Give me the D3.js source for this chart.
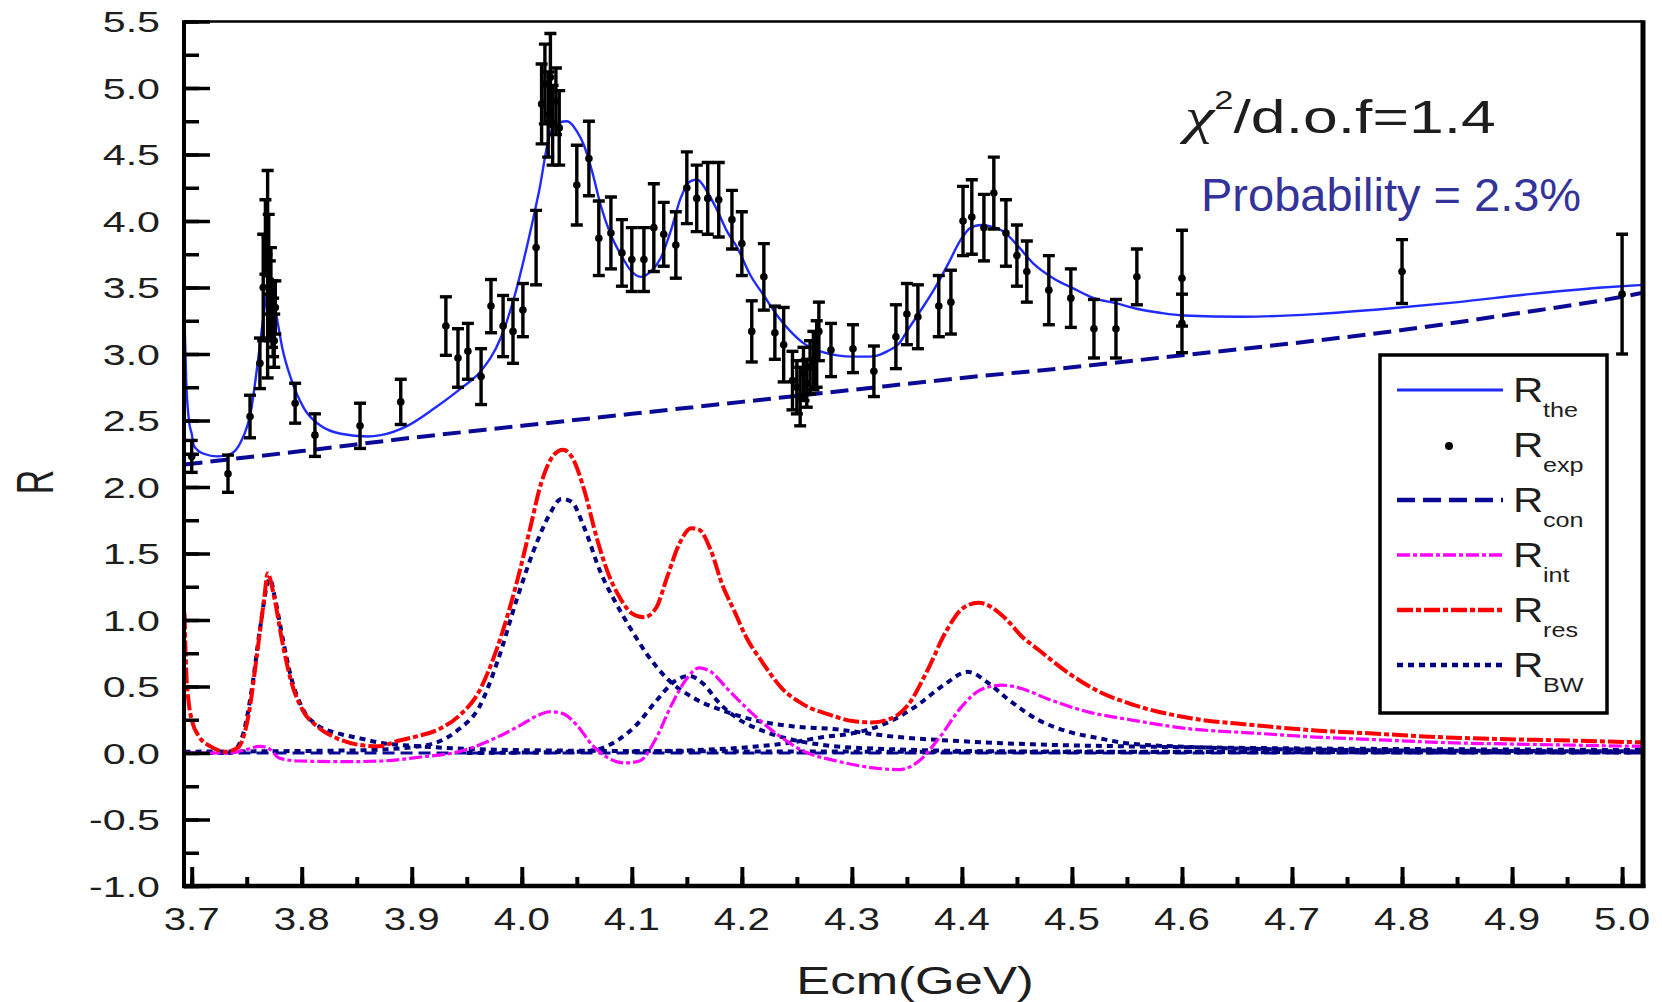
<!DOCTYPE html>
<html>
<head>
<meta charset="utf-8">
<script src="https://cdn.jsdelivr.net/npm/d3@7"></script>
<style>
  body { margin: 0; background: #fff; }
  text { font-family: "Liberation Sans", Arial, Helvetica, sans-serif; fill: #1e1e1e; }
</style>
</head>
<body>
<svg id="chart" width="1662" height="1002"></svg>
<script>
// ---- Experimental R values: [Ecm (GeV), R, error] ----
const rExp = [
  [3.700, 2.23, 0.12], [3.733, 2.10, 0.14], [3.753, 2.53, 0.16], [3.762, 2.93, 0.19],
  [3.765, 3.50, 0.40], [3.767, 3.88, 0.28], [3.769, 3.60, 0.78], [3.770, 3.75, 0.30],
  [3.771, 3.40, 0.30], [3.772, 3.55, 0.25], [3.773, 3.30, 0.25], [3.774, 3.20, 0.22],
  [3.775, 3.10, 0.20], [3.776, 3.35, 0.20], [3.794, 2.63, 0.15], [3.812, 2.39, 0.16],
  [3.853, 2.46, 0.17], [3.890, 2.64, 0.17], [3.931, 3.21, 0.22], [3.942, 2.97, 0.22],
  [3.951, 3.02, 0.21], [3.963, 2.83, 0.21], [3.972, 3.36, 0.20], [3.983, 3.21, 0.23],
  [3.992, 3.17, 0.24], [4.001, 3.33, 0.20], [4.013, 3.80, 0.28], [4.018, 4.88, 0.30],
  [4.021, 5.03, 0.30], [4.024, 4.80, 0.32], [4.026, 5.08, 0.33], [4.028, 4.72, 0.30],
  [4.031, 4.90, 0.25], [4.034, 4.70, 0.28], [4.050, 4.27, 0.30], [4.061, 4.47, 0.28],
  [4.070, 3.87, 0.28], [4.081, 3.91, 0.27], [4.091, 3.76, 0.25], [4.100, 3.71, 0.24],
  [4.111, 3.71, 0.24], [4.120, 3.95, 0.33], [4.129, 3.90, 0.24], [4.140, 3.82, 0.25],
  [4.150, 4.25, 0.27], [4.159, 4.17, 0.25], [4.169, 4.17, 0.27], [4.179, 4.16, 0.28],
  [4.191, 4.01, 0.22], [4.200, 3.83, 0.24], [4.209, 3.17, 0.23], [4.220, 3.58, 0.25],
  [4.230, 3.16, 0.20], [4.238, 3.07, 0.28], [4.246, 2.80, 0.22], [4.250, 2.75, 0.20],
  [4.253, 2.68, 0.22], [4.256, 2.85, 0.20], [4.259, 2.78, 0.18], [4.262, 2.90, 0.20],
  [4.265, 2.95, 0.22], [4.268, 3.00, 0.25], [4.270, 3.17, 0.22], [4.281, 3.03, 0.20],
  [4.301, 3.04, 0.18], [4.320, 2.87, 0.19], [4.340, 3.13, 0.24], [4.350, 3.30, 0.23],
  [4.360, 3.28, 0.24], [4.379, 3.36, 0.23], [4.390, 3.39, 0.24], [4.401, 4.00, 0.26],
  [4.409, 4.03, 0.28], [4.420, 3.95, 0.25], [4.429, 4.21, 0.27], [4.440, 3.91, 0.25],
  [4.450, 3.74, 0.23], [4.459, 3.62, 0.23], [4.479, 3.48, 0.26], [4.499, 3.42, 0.22],
  [4.520, 3.19, 0.22], [4.540, 3.19, 0.22], [4.559, 3.58, 0.21], [4.600, 3.57, 0.36],
  [4.600, 3.23, 0.22], [4.800, 3.62, 0.24], [5.000, 3.45, 0.45]
];

// ---- Theoretical total R: [Ecm, R] ----
const rThe = [
  [3.6935, 3.24], [3.695, 2.80], [3.6975, 2.50], [3.700, 2.40], [3.702, 2.31], [3.711, 2.25],
  [3.7235, 2.23], [3.7356, 2.25], [3.7447, 2.34], [3.7538, 2.57], [3.7613, 3.02], [3.767, 3.39],
  [3.7719, 3.57], [3.7765, 3.32], [3.7825, 3.04], [3.790, 2.82], [3.8022, 2.59], [3.8173, 2.46],
  [3.8355, 2.40], [3.8597, 2.38], [3.8718, 2.39], [3.896, 2.46], [3.9202, 2.59], [3.9444, 2.74],
  [3.9626, 2.87], [3.9808, 3.12], [3.9929, 3.42], [4.005, 3.82], [4.0156, 4.22], [4.0262, 4.67],
  [4.0338, 4.74], [4.0413, 4.75], [4.0504, 4.67], [4.0565, 4.57], [4.064, 4.37], [4.0716, 4.12],
  [4.0807, 3.90], [4.0898, 3.75], [4.0989, 3.63], [4.108, 3.58], [4.117, 3.62], [4.1262, 3.72],
  [4.1352, 3.92], [4.1443, 4.17], [4.1534, 4.30], [4.1595, 4.31], [4.1685, 4.22], [4.1776, 4.08],
  [4.1867, 3.92], [4.1958, 3.80], [4.2079, 3.59], [4.220, 3.44], [4.2321, 3.29], [4.2442, 3.17],
  [4.2563, 3.08], [4.2714, 3.02], [4.2865, 2.99], [4.3017, 2.98], [4.3168, 2.98], [4.332, 3.02],
  [4.344, 3.09], [4.350, 3.17], [4.362, 3.32], [4.375, 3.49], [4.387, 3.67], [4.399, 3.86],
  [4.408, 3.95], [4.417, 3.97], [4.426, 3.96], [4.438, 3.92], [4.450, 3.82], [4.465, 3.68],
  [4.483, 3.57], [4.502, 3.49], [4.520, 3.42], [4.541, 3.38], [4.559, 3.34], [4.580, 3.31],
  [4.601, 3.29], [4.656, 3.28], [4.721, 3.30], [4.786, 3.34], [4.851, 3.39], [4.916, 3.45],
  [4.982, 3.50], [5.019, 3.52]
];

// ---- Continuum contribution ----
const rCon = [
  [3.6935, 2.17], [3.8, 2.27], [3.9, 2.37], [4.0, 2.46], [4.1, 2.55], [4.2, 2.64], [4.3, 2.73],
  [4.4, 2.82], [4.5, 2.90], [4.6, 2.99], [4.7, 3.08], [4.8, 3.18], [4.9, 3.30], [5.0, 3.43], [5.019, 3.46]
];

// ---- Interference term ----
const rInt = [
  [3.6935, 0.0], [3.735, 0.0], [3.749, 0.025], [3.762, 0.05], [3.769, 0.04], [3.780, -0.04],
  [3.797, -0.06], [3.839, -0.065], [3.873, -0.06], [3.908, -0.03], [3.943, 0.01], [3.978, 0.12],
  [3.999, 0.21], [4.014, 0.28], [4.025, 0.31], [4.036, 0.30], [4.050, 0.21], [4.064, 0.06],
  [4.079, -0.04], [4.093, -0.075], [4.107, -0.06], [4.122, 0.11], [4.136, 0.36], [4.150, 0.56],
  [4.161, 0.64], [4.172, 0.61], [4.186, 0.49], [4.204, 0.34], [4.229, 0.16], [4.257, 0.01],
  [4.286, -0.06], [4.318, -0.11], [4.343, -0.125], [4.361, -0.06], [4.379, 0.11], [4.401, 0.36],
  [4.418, 0.48], [4.436, 0.51], [4.452, 0.49], [4.480, 0.40], [4.514, 0.31], [4.553, 0.25],
  [4.609, 0.18], [4.665, 0.15], [4.721, 0.12], [4.777, 0.10], [4.832, 0.08], [4.916, 0.065], [5.019, 0.05]
];

// ---- Total resonance contribution ----
const rRes = [
  [3.6935, 1.05], [3.695, 0.62], [3.697, 0.40], [3.700, 0.25], [3.707, 0.12], [3.717, 0.05],
  [3.731, 0.01], [3.742, 0.04], [3.752, 0.30], [3.759, 0.72], [3.766, 1.17], [3.769, 1.35],
  [3.775, 1.17], [3.782, 0.85], [3.790, 0.55], [3.801, 0.32], [3.814, 0.20], [3.832, 0.11],
  [3.853, 0.06], [3.870, 0.05], [3.887, 0.09], [3.907, 0.13], [3.925, 0.18], [3.943, 0.28],
  [3.961, 0.46], [3.978, 0.80], [3.996, 1.30], [4.007, 1.67], [4.018, 2.04], [4.029, 2.24],
  [4.0375, 2.28], [4.046, 2.22], [4.057, 1.97], [4.068, 1.62], [4.079, 1.34], [4.089, 1.17],
  [4.100, 1.05], [4.111, 1.02], [4.122, 1.09], [4.132, 1.32], [4.143, 1.57], [4.154, 1.69],
  [4.161, 1.68], [4.172, 1.52], [4.182, 1.27], [4.193, 1.07], [4.204, 0.87], [4.218, 0.69],
  [4.236, 0.49], [4.257, 0.36], [4.279, 0.29], [4.3005, 0.24], [4.318, 0.23], [4.336, 0.26],
  [4.351, 0.36], [4.368, 0.61], [4.386, 0.92], [4.401, 1.09], [4.415, 1.13], [4.441, 1.00],
  [4.454, 0.88], [4.469, 0.78], [4.497, 0.60], [4.525, 0.46], [4.553, 0.37], [4.609, 0.26],
  [4.665, 0.21], [4.721, 0.17], [4.777, 0.145], [4.832, 0.12], [4.888, 0.105], [4.944, 0.095], [5.019, 0.08]
];

// ---- Breit-Wigner shapes of the individual resonances ----
const bw3770 = [
  [3.6935, 0.0], [3.735, 0.0], [3.745, 0.10], [3.755, 0.50], [3.762, 0.93], [3.771, 1.31],
  [3.776, 1.15], [3.783, 0.85], [3.790, 0.58], [3.801, 0.33], [3.814, 0.21], [3.832, 0.15],
  [3.853, 0.11], [3.873, 0.075], [3.908, 0.05], [3.977, 0.025], [4.1, 0.015], [4.5, 0.008], [5.019, 0.005]
];
const bw4040 = [
  [3.6935, 0.01], [3.85, 0.02], [3.907, 0.05], [3.943, 0.18], [3.961, 0.34], [3.978, 0.69],
  [3.996, 1.17], [4.014, 1.59], [4.025, 1.79], [4.036, 1.91], [4.045, 1.89], [4.057, 1.69],
  [4.071, 1.37], [4.086, 1.12], [4.100, 0.92], [4.114, 0.74], [4.132, 0.56], [4.157, 0.41],
  [4.186, 0.31], [4.215, 0.24], [4.247, 0.20], [4.283, 0.18], [4.336, 0.125], [4.408, 0.085],
  [4.465, 0.065], [4.55, 0.05], [4.7, 0.035], [4.85, 0.028], [5.019, 0.022]
];
const bw4160 = [
  [3.95, 0.0], [4.05, 0.01], [4.068, 0.025], [4.086, 0.09], [4.104, 0.21], [4.122, 0.39],
  [4.139, 0.54], [4.152, 0.58], [4.165, 0.52], [4.179, 0.38], [4.196, 0.26], [4.218, 0.17],
  [4.246, 0.10], [4.274, 0.06], [4.33, 0.03], [4.45, 0.012], [5.019, 0.005]
];
const bw4415 = [
  [4.1, 0.01], [4.2, 0.04], [4.246, 0.08], [4.274, 0.12], [4.302, 0.15], [4.330, 0.22],
  [4.358, 0.35], [4.385, 0.52], [4.405, 0.61], [4.425, 0.52], [4.441, 0.41], [4.469, 0.25],
  [4.497, 0.16], [4.525, 0.11], [4.553, 0.07], [4.609, 0.045], [4.721, 0.025], [5.019, 0.012]
];
const zeroLine = [[3.6935, 0.0], [5.019, 0.0]];

// ---- Axis ticks and legend labels ----
const xMajorTicks = [3.7, 3.8, 3.9, 4.0, 4.1, 4.2, 4.3, 4.4, 4.5, 4.6, 4.7, 4.8, 4.9, 5.0];
const yMajorTicks = [-1.0, -0.5, 0.0, 0.5, 1.0, 1.5, 2.0, 2.5, 3.0, 3.5, 4.0, 4.5, 5.0, 5.5];
const legendSubs = ["the", "exp", "con", "int", "res", "BW"];
const fitText = "/d.o.f=1.4";
const probText = "Probability = 2.3%";

// ---- Layout ----
const plotL = 184, plotR = 1643, plotT = 21.5, plotB = 886;
const x = d3.scaleLinear().domain([3.693, 5.019]).range([plotL, plotR]);
const y = d3.scaleLinear().domain([-1, 5.5]).range([plotB, plotT]);
const fmt = d3.formatLocale({ decimal: ".", thousands: ",", grouping: [3], currency: ["", ""], minus: "-" }).format(".1f");

const svg = d3.select("#chart");
svg.append("rect").attr("width", 1662).attr("height", 1002).attr("fill", "#fff");

svg.append("defs").append("clipPath").attr("id", "plotClip")
  .append("rect").attr("x", plotL).attr("y", plotT).attr("width", plotR - plotL).attr("height", plotB - plotT);

const plot = svg.append("g").attr("clip-path", "url(#plotClip)");

const line = d3.line().x(d => x(d[0])).y(d => y(d[1])).curve(d3.curveMonotoneX);

const styles = {
  the: { stroke: "#1f2bff", width: 2.4, dash: null },
  con: { stroke: "#0a0a96", width: 4, dash: "18,8" },
  int: { stroke: "#ff00ff", width: 3.2, dash: "13,3,4,3" },
  res: { stroke: "#ff0000", width: 4, dash: "16,3,5,3" },
  bw:  { stroke: "#000080", width: 4, dash: "6,5" },
  zero:{ stroke: "#0a0a96", width: 3, dash: "12,6" }
};

function drawCurve(data, st) {
  const p = plot.append("path").datum(data)
    .attr("d", line).attr("fill", "none")
    .attr("stroke", st.stroke).attr("stroke-width", st.width)
    .attr("stroke-linejoin", "round");
  if (st.dash) p.attr("stroke-dasharray", st.dash);
}

drawCurve(zeroLine, styles.zero);
[bw3770, bw4040, bw4160, bw4415].forEach(b => drawCurve(b, styles.bw));
drawCurve(rInt, styles.int);
drawCurve(rRes, styles.res);
drawCurve(rCon, styles.con);
drawCurve(rThe, styles.the);

// ---- Error bars ----
const capHalf = 6;
const eb = plot.append("g").attr("stroke", "#000").attr("stroke-width", 3.4);
rExp.forEach(d => {
  const cx = x(d[0]), y1 = y(d[1] + d[2]), y2 = y(d[1] - d[2]);
  eb.append("line").attr("x1", cx).attr("x2", cx).attr("y1", y1).attr("y2", y2);
  eb.append("line").attr("x1", cx - capHalf).attr("x2", cx + capHalf).attr("y1", y1).attr("y2", y1);
  eb.append("line").attr("x1", cx - capHalf).attr("x2", cx + capHalf).attr("y1", y2).attr("y2", y2);
});
plot.append("g").selectAll("circle").data(rExp).join("circle")
  .attr("cx", d => x(d[0])).attr("cy", d => y(d[1])).attr("r", 3.8).attr("fill", "#000");

// ---- Axes (ticks only; labels drawn separately with horizontal stretch) ----
const xMinor = d3.range(3.70, 5.0001, 0.05);
const yMinor = d3.range(-1.0, 5.5001, 0.25);

svg.append("g").attr("transform", `translate(0,${plotB})`)
  .call(d3.axisBottom(x).tickValues(xMinor).tickSizeInner(-9).tickSizeOuter(0).tickFormat(""))
  .call(g => g.select(".domain").remove())
  .call(g => g.selectAll("line").attr("stroke", "#000").attr("stroke-width", 4));
svg.append("g").attr("transform", `translate(0,${plotB})`)
  .call(d3.axisBottom(x).tickValues(xMajorTicks).tickSizeInner(-19).tickSizeOuter(0).tickFormat(""))
  .call(g => g.select(".domain").remove())
  .call(g => g.selectAll("line").attr("stroke", "#000").attr("stroke-width", 4));

svg.append("g").attr("transform", `translate(${plotL},0)`)
  .call(d3.axisLeft(y).tickValues(yMinor).tickSizeInner(-15).tickSizeOuter(0).tickFormat(""))
  .call(g => g.select(".domain").remove())
  .call(g => g.selectAll("line").attr("stroke", "#000").attr("stroke-width", 3.5));
svg.append("g").attr("transform", `translate(${plotL},0)`)
  .call(d3.axisLeft(y).tickValues(yMajorTicks).tickSizeInner(-26).tickSizeOuter(0).tickFormat(""))
  .call(g => g.select(".domain").remove())
  .call(g => g.selectAll("line").attr("stroke", "#000").attr("stroke-width", 3.5));

// Frame
svg.append("line").attr("x1", plotL).attr("x2", plotR).attr("y1", plotT).attr("y2", plotT)
  .attr("stroke", "#000").attr("stroke-width", 2.6);
svg.append("line").attr("x1", plotR).attr("x2", plotR).attr("y1", plotT - 1.3).attr("y2", plotB + 2)
  .attr("stroke", "#000").attr("stroke-width", 5);
svg.append("line").attr("x1", plotL).attr("x2", plotR + 2.5).attr("y1", plotB).attr("y2", plotB)
  .attr("stroke", "#000").attr("stroke-width", 4.5);
svg.append("line").attr("x1", plotL).attr("x2", plotL).attr("y1", plotT - 1.3).attr("y2", plotB + 2.2)
  .attr("stroke", "#000").attr("stroke-width", 4);

// ---- Tick labels ----
svg.append("g").selectAll("text").data(yMajorTicks).join("text")
  .attr("transform", d => `translate(160,${y(d) + 10.5}) scale(1.42,1)`)
  .attr("text-anchor", "end").style("font-size", "29px")
  .text(d => fmt(d));

svg.append("g").selectAll("text").data(xMajorTicks).join("text")
  .attr("transform", d => `translate(${x(d)},930) scale(1.3,1)`)
  .attr("text-anchor", "middle").style("font-size", "31px")
  .text(d => fmt(d));

// ---- Axis titles ----
svg.append("text").attr("transform", "translate(53,482) scale(1.5,1) rotate(-90)")
  .attr("text-anchor", "middle").style("font-size", "34px").text("R");
svg.append("text").attr("transform", "translate(915,994) scale(1.34,1)")
  .attr("text-anchor", "middle").style("font-size", "38px").text("Ecm(GeV)");

// ---- Fit quality annotations ----
const chi = svg.append("text").attr("transform", "translate(1185,133) scale(1.33,1)");
chi.append("tspan").style("font-family", "'Liberation Serif', 'DejaVu Serif', serif")
  .style("font-style", "italic").style("font-size", "50px").text("χ");
chi.append("tspan").attr("dy", -24).style("font-size", "26px").text("2");
chi.append("tspan").attr("dy", 24).style("font-size", "47px").text(fitText);

svg.append("text").attr("x", 1201).attr("y", 211)
  .style("font-size", "47px").style("fill", "#333399").text(probText);

// ---- Legend ----
const lg = svg.append("g");
lg.append("rect").attr("x", 1380).attr("y", 355).attr("width", 227).attr("height", 358)
  .attr("fill", "#fff").attr("stroke", "#000").attr("stroke-width", 3.5);
const rowY = [390, 445, 500, 555, 610, 665];
const legendStyles = [styles.the, null, styles.con, styles.int, styles.res, styles.bw];
legendSubs.forEach((sub, i) => {
  const ry = rowY[i];
  const st = legendStyles[i];
  if (st) {
    const l = lg.append("line").attr("x1", 1397).attr("x2", 1503).attr("y1", ry).attr("y2", ry)
      .attr("stroke", st.stroke).attr("stroke-width", st.width + 0.5);
    if (st.dash) l.attr("stroke-dasharray", st.dash);
  } else {
    lg.append("circle").attr("cx", 1449).attr("cy", ry + 1).attr("r", 4).attr("fill", "#000");
  }
  lg.append("text").attr("transform", `translate(1513,${ry + 12}) scale(1.2,1)`)
    .style("font-size", "35px").text("R");
  lg.append("text").attr("transform", `translate(1543,${ry + 27}) scale(1.2,1)`)
    .style("font-size", "21px").text(sub);
});
</script>
</body>
</html>
